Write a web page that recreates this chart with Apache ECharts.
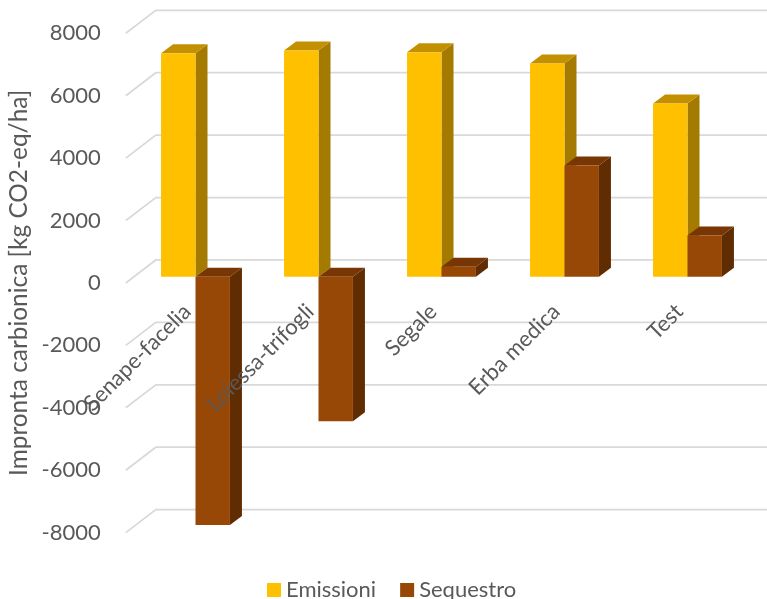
<!DOCTYPE html>
<html><head><meta charset="utf-8">
<script src="https://cdn.jsdelivr.net/npm/echarts@6/dist/echarts.min.js"></script>
<style>html,body{margin:0;padding:0;background:#fff}#c{width:767px;height:599px}</style>
</head><body><div id="c"></div>
<script>
const categories = ['Senape-facelia', 'Loiessa-trifogli', 'Segale', 'Erba medica', 'Test'];
const emissioni = [7160, 7245, 7190, 6830, 5545];
const sequestro = [-7960, -4635, 320, 3560, 1315];
const yTicks = [-8000, -6000, -4000, -2000, 0, 2000, 4000, 6000, 8000];

const FONT = 'Lato';
const TXT = '#595959';
const BACK = [21.8, -16.7];   // back wall offset from bar plane
const FRONT = [-8.2, 6.3];    // front edge offset from bar plane
const DEPTH = [12, -9];       // bar depth
const colors = {
  Emissioni: {front: '#FFC000', top: '#C29000', side: '#A47B00'},
  Sequestro: {front: '#984806', top: '#783604', side: '#602C02'}
};

function barRender(name, left) {
  const c = colors[name];
  return function (params, api) {
    const idx = api.value(0), v = api.value(1);
    const band = api.size([1, 0])[0];
    const w = band * 0.28;
    const cx = api.coord([idx, 0])[0];
    const x0 = left ? cx - w : cx;
    const top = api.coord([idx, Math.max(0, v)])[1];
    const bot = api.coord([idx, Math.min(0, v)])[1];
    const [dx, dy] = DEPTH;
    return {
      type: 'group',
      children: [
        {type: 'polygon', shape: {points: [[x0 + w, top], [x0 + w + dx, top + dy], [x0 + w + dx, bot + dy], [x0 + w, bot]]},
          style: {fill: c.side}},
        {type: 'polygon', shape: {points: [[x0, top], [x0 + w, top], [x0 + w + dx, top + dy], [x0 + dx, top + dy]]},
          style: {fill: c.top}},
        {type: 'rect', shape: {x: x0, y: top, width: w, height: Math.max(bot - top, 0.5)},
          style: {fill: c.front}}
      ]
    };
  };
}

const chart = echarts.init(document.getElementById('c'), null, {renderer: 'canvas'});
chart.setOption({
  backgroundColor: '#fff',
  animation: false,
  textStyle: {fontFamily: FONT},
  grid: [
    {left: 134, top: 27, width: 615, height: 499.3, outerBoundsMode: 'none', containLabel: false},
    {left: 125.8, top: 33.3, width: 615, height: 499.3, outerBoundsMode: 'none', containLabel: false},
    {left: 125.8, top: 33.3, width: 615, height: 249.65, outerBoundsMode: 'none', containLabel: false}
  ],
  xAxis: [
    {gridIndex: 0, type: 'category', data: categories, show: false},
    {gridIndex: 1, type: 'category', data: categories, show: false},
    {gridIndex: 2, type: 'category', data: categories, position: 'bottom', z: 10,
      axisLine: {show: false}, axisTick: {show: false},
      axisLabel: {rotate: 45, interval: 0, margin: 25, color: TXT, fontSize: 22, fontFamily: FONT}}
  ],
  yAxis: [
    {gridIndex: 0, type: 'value', min: -8000, max: 8000, interval: 2000, show: false},
    {gridIndex: 1, type: 'value', min: -8000, max: 8000, interval: 2000,
      axisLine: {show: false}, axisTick: {show: false}, splitLine: {show: false},
      axisLabel: {margin: 25, color: TXT, fontSize: 22, fontFamily: FONT, formatter: v => String(v)},
      name: 'Impronta carbionica [kg CO2-eq/ha]', nameLocation: 'middle', nameRotate: 90, nameGap: 75,
      nameTextStyle: {color: TXT, fontSize: 24.4, fontFamily: FONT}},
    {gridIndex: 2, type: 'value', min: 0, max: 8000, show: false}
  ],
  legend: {
    bottom: -7, left: 262, itemWidth: 14, itemHeight: 14, itemGap: 24, icon: 'rect',
    textStyle: {color: TXT, fontSize: 22, fontFamily: FONT},
    data: ['Emissioni', 'Sequestro']
  },
  series: [
    {
      type: 'custom', name: 'grid', xAxisIndex: 0, yAxisIndex: 0, silent: true, z: 1,
      data: yTicks.map(v => [0, v]),
      renderItem: function (params, api) {
        const cs = params.coordSys;
        const y = api.coord([0, api.value(1)])[1];
        return {type: 'polyline',
          shape: {points: [[cs.x + FRONT[0], y + FRONT[1]], [cs.x + BACK[0], y + BACK[1]], [cs.x + cs.width + BACK[0] + 40, y + BACK[1]]]},
          style: {stroke: '#D9D9D9', lineWidth: 1.75, fill: null}};
      }
    },
    {
      type: 'custom', name: 'Emissioni', xAxisIndex: 0, yAxisIndex: 0, z: 2,
      itemStyle: {color: colors.Emissioni.front},
      data: emissioni.map((v, i) => [i, v]),
      renderItem: barRender('Emissioni', true)
    },
    {
      type: 'custom', name: 'Sequestro', xAxisIndex: 0, yAxisIndex: 0, z: 3,
      itemStyle: {color: colors.Sequestro.front},
      data: sequestro.map((v, i) => [i, v]),
      renderItem: barRender('Sequestro', false)
    }
  ]
});
</script></body></html>
